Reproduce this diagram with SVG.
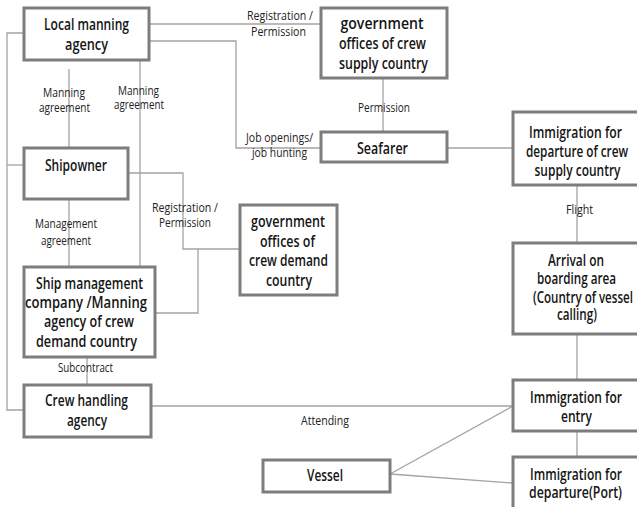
<svg xmlns="http://www.w3.org/2000/svg" width="637" height="507" viewBox="0 0 637 507">
<style>
.box{fill:#fff;stroke:#7d7d7d;stroke-width:3}
.ln{fill:none;stroke:#a3a3a3;stroke-width:1.3}
.t{font-family:"Open Sans","Liberation Sans",sans-serif;font-weight:600;font-size:15.5px;fill:#151515;text-anchor:middle}
.l{font-family:"Open Sans","Liberation Sans",sans-serif;font-weight:400;font-size:12.5px;fill:#222;text-anchor:middle}
</style>
<rect width="637" height="507" fill="#fff"/>
<g id="connectors">
<polyline class="ln" points="24,33 7,33 7,410 24,410"/>
<line class="ln" x1="7" y1="165" x2="24" y2="165"/>
<line class="ln" x1="149" y1="24" x2="321" y2="24"/>
<polyline class="ln" points="149,41 236,41 236,148 321,148"/>
<line class="ln" x1="69" y1="69" x2="69" y2="148"/>
<line class="ln" x1="140" y1="60" x2="140" y2="267"/>
<line class="ln" x1="69" y1="199" x2="69" y2="267"/>
<polyline class="ln" points="128,173 183,173 183,249 240,249"/>
<polyline class="ln" points="155,313 198,313 198,249"/>
<line class="ln" x1="87" y1="357" x2="87" y2="385"/>
<line class="ln" x1="151" y1="406" x2="513" y2="406"/>
<line class="ln" x1="447" y1="148" x2="513" y2="148"/>
<line class="ln" x1="383" y1="78" x2="383" y2="132"/>
<line class="ln" x1="577" y1="185" x2="577" y2="243"/>
<line class="ln" x1="577" y1="334" x2="577" y2="380"/>
<line class="ln" x1="577" y1="431" x2="577" y2="457"/>
<line class="ln" x1="390" y1="474" x2="513" y2="406"/>
<line class="ln" x1="390" y1="474" x2="513" y2="483"/>
</g>
<g id="labels">
<text class="l" x="280" y="20" textLength="66" lengthAdjust="spacingAndGlyphs">Registration /</text>
<text class="l" x="278.5" y="36" textLength="55" lengthAdjust="spacingAndGlyphs">Permission</text>
<text class="l" x="279.5" y="142" textLength="67" lengthAdjust="spacingAndGlyphs">Job openings/</text>
<text class="l" x="279.5" y="157" textLength="55" lengthAdjust="spacingAndGlyphs">job hunting</text>
<text class="l" x="64" y="97" textLength="42" lengthAdjust="spacingAndGlyphs">Manning</text>
<text class="l" x="64.5" y="112" textLength="51" lengthAdjust="spacingAndGlyphs">agreement</text>
<text class="l" x="138.5" y="95" textLength="41" lengthAdjust="spacingAndGlyphs">Manning</text>
<text class="l" x="139" y="109" textLength="50" lengthAdjust="spacingAndGlyphs">agreement</text>
<text class="l" x="384" y="112" textLength="52" lengthAdjust="spacingAndGlyphs">Permission</text>
<text class="l" x="66" y="228" textLength="62" lengthAdjust="spacingAndGlyphs">Management</text>
<text class="l" x="66" y="245" textLength="50" lengthAdjust="spacingAndGlyphs">agreement</text>
<text class="l" x="185" y="212" textLength="66" lengthAdjust="spacingAndGlyphs">Registration /</text>
<text class="l" x="185" y="227" textLength="52" lengthAdjust="spacingAndGlyphs">Permission</text>
<text class="l" x="85.5" y="372" textLength="55" lengthAdjust="spacingAndGlyphs">Subcontract</text>
<text class="l" x="325" y="425" textLength="48" lengthAdjust="spacingAndGlyphs">Attending</text>
<text class="l" x="579.5" y="214" textLength="27" lengthAdjust="spacingAndGlyphs">Flight</text>
</g>
<g id="local-manning-agency">
<rect class="box" x="24" y="8" width="125" height="52"/>
<text class="t" x="86.5" y="30" textLength="85" lengthAdjust="spacingAndGlyphs">Local manning</text>
<text class="t" x="86.5" y="50" textLength="43" lengthAdjust="spacingAndGlyphs">agency</text>
</g>
<g id="gov-supply">
<rect class="box" x="321" y="8" width="126" height="70"/>
<text class="t" x="382" y="29" textLength="83" lengthAdjust="spacingAndGlyphs">government</text>
<text class="t" x="382.5" y="49" textLength="87" lengthAdjust="spacingAndGlyphs">offices of crew</text>
<text class="t" x="383.5" y="69" textLength="89" lengthAdjust="spacingAndGlyphs">supply country</text>
</g>
<g id="seafarer">
<rect class="box" x="321" y="132" width="126" height="30"/>
<text class="t" x="382.5" y="154" textLength="51" lengthAdjust="spacingAndGlyphs">Seafarer</text>
</g>
<g id="immigration-departure-supply">
<rect class="box" x="513" y="112" width="128" height="73"/>
<text class="t" x="575.5" y="138" textLength="93" lengthAdjust="spacingAndGlyphs">Immigration for</text>
<text class="t" x="577" y="157" textLength="102" lengthAdjust="spacingAndGlyphs">departure of crew</text>
<text class="t" x="577.5" y="176" textLength="86" lengthAdjust="spacingAndGlyphs">supply country</text>
</g>
<g id="shipowner">
<rect class="box" x="24" y="148" width="104" height="51"/>
<text class="t" x="76" y="171" textLength="62" lengthAdjust="spacingAndGlyphs">Shipowner</text>
</g>
<g id="gov-demand">
<rect class="box" x="240" y="205" width="97" height="90"/>
<text class="t" x="288" y="227" textLength="74" lengthAdjust="spacingAndGlyphs">government</text>
<text class="t" x="287.5" y="247" textLength="55" lengthAdjust="spacingAndGlyphs">offices of</text>
<text class="t" x="288.5" y="266" textLength="79" lengthAdjust="spacingAndGlyphs">crew demand</text>
<text class="t" x="289" y="286" textLength="46" lengthAdjust="spacingAndGlyphs">country</text>
</g>
<g id="ship-management">
<rect class="box" x="24" y="267" width="131" height="90"/>
<text class="t" x="89.5" y="289" textLength="107" lengthAdjust="spacingAndGlyphs">Ship management</text>
<text class="t" x="86" y="308" textLength="122" lengthAdjust="spacingAndGlyphs">company /Manning</text>
<text class="t" x="89" y="327" textLength="90" lengthAdjust="spacingAndGlyphs">agency of crew</text>
<text class="t" x="86.5" y="347" textLength="101" lengthAdjust="spacingAndGlyphs">demand country</text>
</g>
<g id="arrival">
<rect class="box" x="513" y="243" width="128" height="91"/>
<text class="t" x="576" y="266" textLength="56" lengthAdjust="spacingAndGlyphs">Arrival on</text>
<text class="t" x="576.5" y="284" textLength="79" lengthAdjust="spacingAndGlyphs">boarding area</text>
<text class="t" x="583" y="303" textLength="100" lengthAdjust="spacingAndGlyphs">(Country of vessel</text>
<text class="t" x="577" y="320" textLength="40" lengthAdjust="spacingAndGlyphs">calling)</text>
</g>
<g id="crew-handling-agency">
<rect class="box" x="24" y="385" width="127" height="52"/>
<text class="t" x="86.5" y="406" textLength="83" lengthAdjust="spacingAndGlyphs">Crew handling</text>
<text class="t" x="87" y="426" textLength="40" lengthAdjust="spacingAndGlyphs">agency</text>
</g>
<g id="immigration-entry">
<rect class="box" x="513" y="380" width="128" height="51"/>
<text class="t" x="576" y="403" textLength="92" lengthAdjust="spacingAndGlyphs">Immigration for</text>
<text class="t" x="576.5" y="422" textLength="31" lengthAdjust="spacingAndGlyphs">entry</text>
</g>
<g id="vessel">
<rect class="box" x="263" y="460" width="127" height="32"/>
<text class="t" x="325" y="481" textLength="36" lengthAdjust="spacingAndGlyphs">Vessel</text>
</g>
<g id="immigration-departure-port">
<rect class="box" x="513" y="457" width="128" height="52"/>
<text class="t" x="576" y="480" textLength="92" lengthAdjust="spacingAndGlyphs">Immigration for</text>
<text class="t" x="575.5" y="498" textLength="93" lengthAdjust="spacingAndGlyphs">departure(Port)</text>
</g>
</svg>
